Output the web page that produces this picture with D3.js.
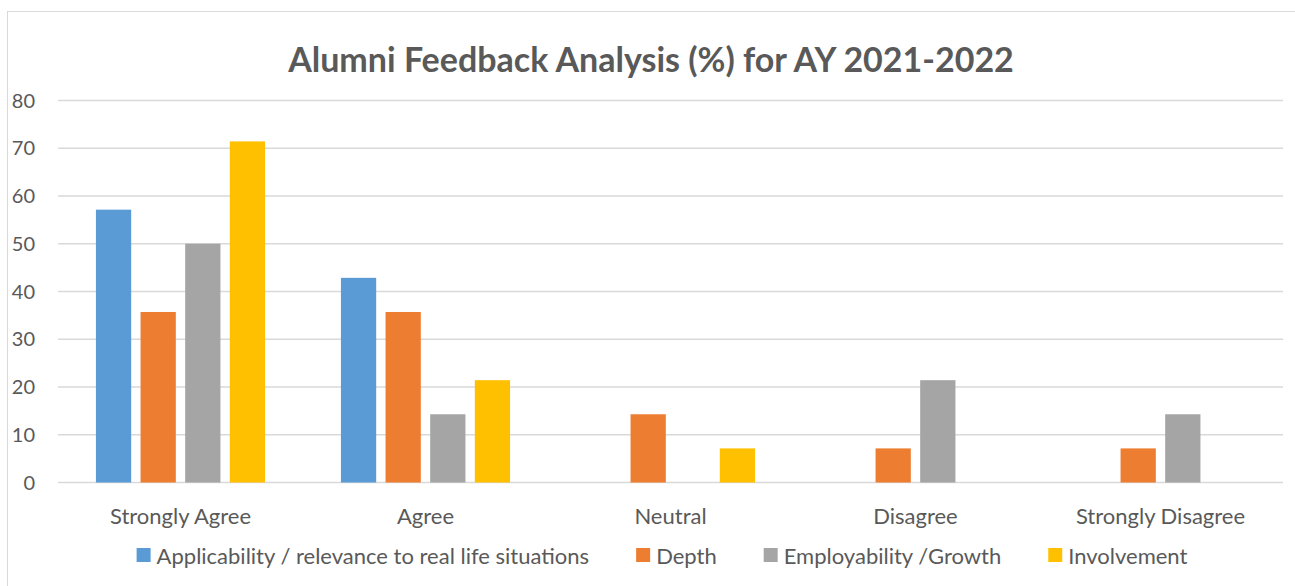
<!DOCTYPE html>
<html>
<head>
<meta charset="utf-8">
<script src="https://cdn.jsdelivr.net/npm/d3@7"></script>
<style>
  body { margin: 0; background: #fff; }
  text { font-family: Lato, "Open Sans", sans-serif; fill: #595959; }
</style>
</head>
<body>
<div id="chart"></div>
<script>
// Chart data
const categories = ["Strongly Agree", "Agree", "Neutral", "Disagree", "Strongly Disagree"];
const seriesNames = ["Applicability / relevance to real life situations", "Depth", "Employability /Growth", "Involvement"];
const applicability = [57.14, 42.86, 0, 0, 0];
const depth = [35.71, 35.71, 14.29, 7.14, 7.14];
const employability = [50, 14.29, 0, 21.43, 14.29];
const involvement = [71.43, 21.43, 7.14, 0, 0];
const yTicks = [0, 10, 20, 30, 40, 50, 60, 70, 80];
const colors = ["#5B9BD5", "#ED7D31", "#A5A5A5", "#FFC000"];

const seriesValues = [applicability, depth, employability, involvement];

function init() {
    const width = 1295;
    const height = 586;

    const svg = d3.select("#chart").append("svg")
                  .attr("width", width)
                  .attr("height", height);

    // chart area border (runs off the right and bottom edges)
    svg.append("rect")
       .attr("x", 7.5).attr("y", 11.5)
       .attr("width", 1300).attr("height", 600)
       .attr("fill", "#fff")
       .attr("stroke", "#d9d9d9");

    // Title
    svg.append("text")
       .attr("x", 651).attr("y", 72)
       .attr("text-anchor", "middle")
       .style("font-size", "34px")
       .style("font-weight", "bold")
       .text("Alumni Feedback Analysis (%) for AY 2021-2022");

    const x = d3.scaleBand()
                .domain(categories)
                .range([58, 1283]);

    const xInner = d3.scaleBand()
                     .domain(d3.range(seriesNames.length))
                     .range([0, x.bandwidth()])
                     .paddingInner(0.21)
                     .paddingOuter(0.85);

    const y = d3.scaleLinear()
                .domain([0, 80])
                .range([482.5, 100.5]);

    // Gridlines
    svg.append("g")
       .selectAll("line")
       .data(yTicks)
       .enter()
       .append("line")
       .attr("x1", 58).attr("x2", 1283)
       .attr("y1", d => y(d)).attr("y2", d => y(d))
       .attr("stroke", "#d9d9d9")
       .attr("stroke-width", 1.5);

    // Y axis labels
    svg.append("g")
       .selectAll("text")
       .data(yTicks)
       .enter()
       .append("text")
       .attr("x", 35)
       .attr("y", d => y(d) + 7)
       .attr("text-anchor", "end")
       .style("font-size", "20px")
       .text(d => d);

    // Bars
    categories.forEach((cat, ci) => {
        seriesValues.forEach((vals, si) => {
            if (vals[ci] <= 0) return;
            svg.append("rect")
               .attr("x", x(cat) + xInner(si))
               .attr("width", xInner.bandwidth())
               .attr("y", y(vals[ci]))
               .attr("height", y(0) - y(vals[ci]))
               .attr("fill", colors[si]);
        });
    });

    // Category labels
    svg.append("g")
       .selectAll("text")
       .data(categories)
       .enter()
       .append("text")
       .attr("x", d => x(d) + x.bandwidth() / 2)
       .attr("y", 524)
       .attr("text-anchor", "middle")
       .style("font-size", "22px")
       .text(d => d);

    // Legend - laid out in a row, centred like the original
    const gap = 47;
    const legend = svg.append("g");
    let cursor = 0;
    seriesNames.forEach((name, i) => {
        const item = legend.append("g").attr("transform", `translate(${cursor},0)`);
        item.append("rect")
            .attr("x", 0).attr("y", 548)
            .attr("width", 14).attr("height", 14)
            .attr("fill", colors[i]);
        const t = item.append("text")
            .attr("x", 20).attr("y", 564)
            .style("font-size", "22px")
            .text(name);
        cursor += 20 + t.node().getComputedTextLength() + gap;
    });
    const legendWidth = cursor - gap;
    legend.attr("transform", `translate(${662 - legendWidth / 2},0)`);
}

window.onload = init;
</script>
</body>
</html>
